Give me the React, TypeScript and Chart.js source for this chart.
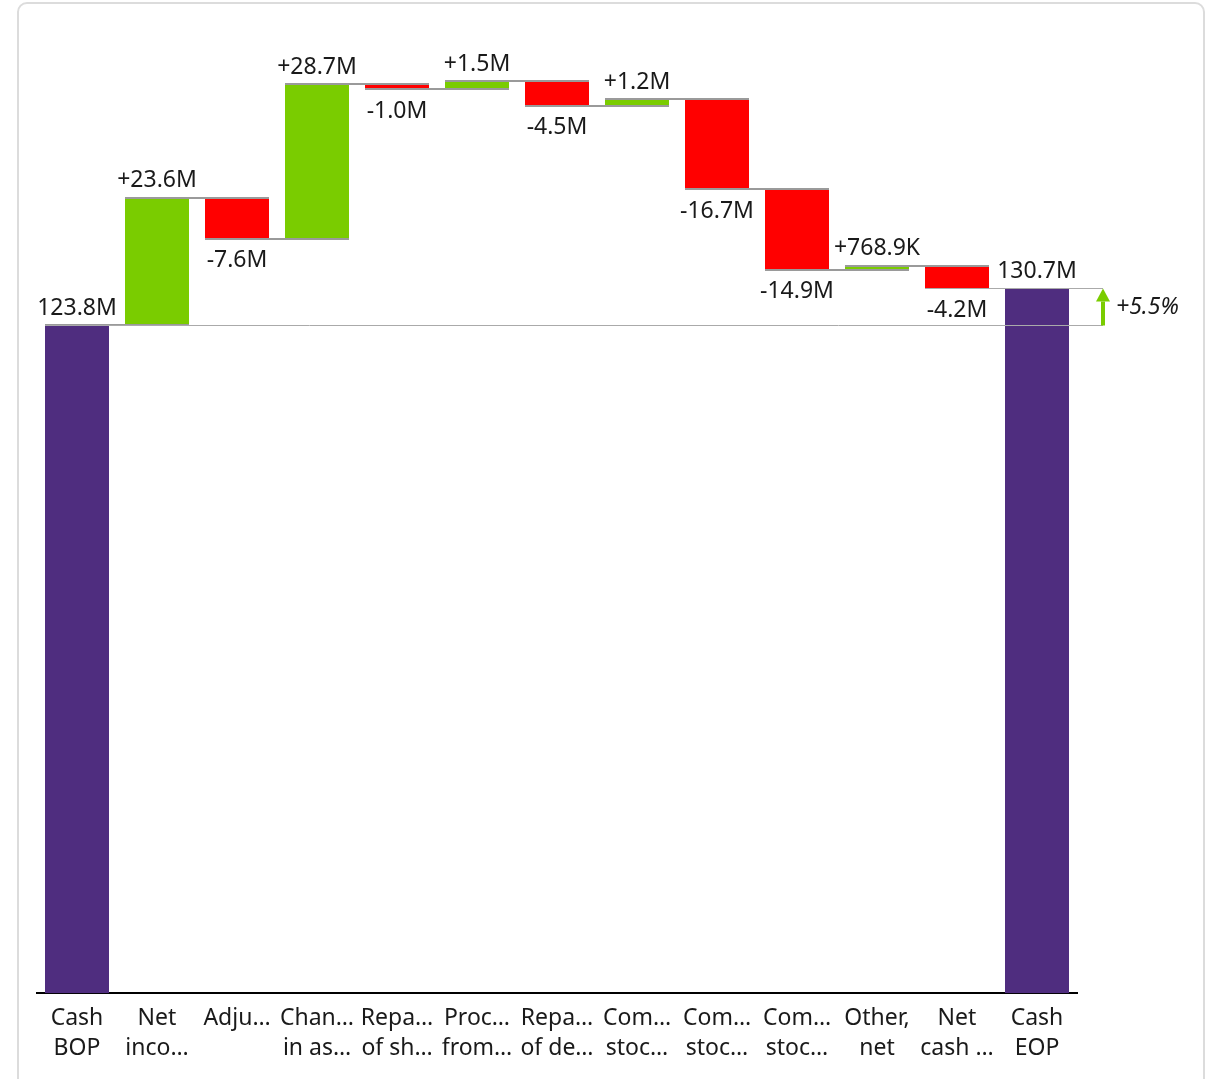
import React, { useEffect, useRef } from "react";
import { Chart, registerables } from "chart.js";

Chart.register(...registerables);

// ---- data (values in millions) ----
const categories: (string | string[])[] = [
  ["Cash", "BOP"],
  ["Net", "inco…"],
  "Adju…",
  ["Chan…", "in as…"],
  ["Repa…", "of sh…"],
  ["Proc…", "from…"],
  ["Repa…", "of de…"],
  ["Com…", "stoc…"],
  ["Com…", "stoc…"],
  ["Com…", "stoc…"],
  ["Other,", "net"],
  ["Net", "cash …"],
  ["Cash", "EOP"],
];
const startTotal = 123.8;
const deltas = [23.6, -7.6, 28.7, -1.0, 1.5, -4.5, 1.2, -16.7, -14.9, 0.7689, -4.2];
const yMax = 180;

const COLOR_TOTAL = "#4F2D7F";
const COLOR_UP = "#7ACC00";
const COLOR_DOWN = "#FF0000";
const FONT = "'Noto Sans', 'Open Sans', sans-serif";
const TEXT = "#1a1a1a";

function fmt(v: number, signed: boolean) {
  const a = Math.abs(v);
  const s = a >= 1 ? a.toFixed(1) + "M" : (a * 1000).toFixed(1) + "K";
  if (!signed) return s;
  return (v >= 0 ? "+" : "-") + s;
}

export default function App() {
  const ref = useRef<HTMLCanvasElement | null>(null);

  useEffect(() => {
    if (!ref.current) return;
    const ranges: [number, number][] = [];
    const colors: string[] = [];
    let cum = startTotal;
    ranges.push([0, startTotal]);
    colors.push(COLOR_TOTAL);
    for (const d of deltas) {
      ranges.push([cum, cum + d]);
      colors.push(d >= 0 ? COLOR_UP : COLOR_DOWN);
      cum += d;
    }
    const endTotal = cum;
    ranges.push([0, endTotal]);
    colors.push(COLOR_TOTAL);
    const n = ranges.length;

    const overlay = {
      id: "waterfallOverlay",
      afterDatasetsDraw(chart: any) {
        const ctx = chart.ctx as CanvasRenderingContext2D;
        const meta = chart.getDatasetMeta(0);
        const y = chart.scales.y;
        const els = meta.data as any[];
        ctx.save();
        // connectors
        ctx.strokeStyle = "#9a9a9a";
        ctx.lineWidth = 2;
        for (let i = 0; i < n - 2; i++) {
          const lvl = ranges[i][1];
          const py = Math.round(y.getPixelForValue(lvl));
          const a = els[i];
          const b = els[i + 1];
          ctx.beginPath();
          ctx.moveTo(a.x - a.width / 2, py);
          ctx.lineTo(b.x + b.width / 2, py);
          ctx.stroke();
        }
        // reference lines to arrow
        const arrowX = els[n - 1].x + els[n - 1].width / 2 + 34;
        const yB = Math.round(y.getPixelForValue(startTotal)) + 0.5;
        const yE = Math.round(y.getPixelForValue(endTotal)) + 0.5;
        ctx.strokeStyle = "#aaaaaa";
        ctx.lineWidth = 1;
        ctx.beginPath();
        ctx.moveTo(els[0].x - els[0].width / 2, yB);
        ctx.lineTo(arrowX, yB);
        ctx.moveTo(els[n - 2].x - els[n - 2].width / 2, yE);
        ctx.lineTo(arrowX, yE);
        ctx.stroke();
        // arrow
        const up = endTotal >= startTotal;
        ctx.strokeStyle = COLOR_UP;
        ctx.fillStyle = COLOR_UP;
        ctx.lineWidth = 4;
        const headH = 13;
        ctx.beginPath();
        ctx.moveTo(arrowX, yB);
        ctx.lineTo(arrowX, up ? yE + headH : yE - headH);
        ctx.stroke();
        ctx.beginPath();
        ctx.moveTo(arrowX, yE);
        ctx.lineTo(arrowX - 7, up ? yE + headH : yE - headH);
        ctx.lineTo(arrowX + 7, up ? yE + headH : yE - headH);
        ctx.closePath();
        ctx.fill();
        const pct = ((endTotal - startTotal) / startTotal) * 100;
        ctx.fillStyle = TEXT;
        ctx.font = "italic 23px " + FONT;
        ctx.textAlign = "left";
        ctx.textBaseline = "middle";
        ctx.fillText((pct >= 0 ? "+" : "") + pct.toFixed(1) + "%", arrowX + 13, (yB + yE) / 2);

        // value labels
        ctx.font = "23px " + FONT;
        ctx.textAlign = "center";
        ctx.fillStyle = TEXT;
        for (let i = 0; i < n; i++) {
          const el = els[i];
          const [s, e] = ranges[i];
          const isTotal = i === 0 || i === n - 1;
          const v = e - s;
          const topPx = y.getPixelForValue(Math.max(s, e));
          const botPx = y.getPixelForValue(Math.min(s, e));
          const text = isTotal ? fmt(e, false) : fmt(v, true);
          if (isTotal || v >= 0) {
            ctx.fillText(text, el.x, topPx - 17);
          } else {
            ctx.fillText(text, el.x, botPx + 22);
          }
        }
        ctx.restore();
      },
    };

    const chart = new Chart(ref.current, {
      type: "bar",
      data: {
        labels: categories,
        datasets: [
          {
            data: ranges as any,
            backgroundColor: colors,
            borderWidth: 0,
            barPercentage: 0.8,
            categoryPercentage: 1,
          },
        ],
      },
      options: {
        animation: false,
        responsive: false,
        devicePixelRatio: 1,
        layout: { padding: { left: 37, right: 133, top: 22, bottom: 6 } },
        plugins: { legend: { display: false }, tooltip: { enabled: false } },
        scales: {
          x: {
            grid: { display: false, drawTicks: false },
            border: { display: true, color: "#000", width: 2 },
            ticks: {
              color: TEXT,
              padding: 10,
              maxRotation: 0,
              autoSkip: false,
              font: { family: FONT, size: 23, lineHeight: 1.3 },
            },
          },
          y: { display: false, min: 0, max: yMax },
        },
      },
      plugins: [overlay],
    });
    return () => chart.destroy();
  }, []);

  return (
    <div style={{ position: "fixed", left: 0, top: 0, width: 1210, height: 1079, overflow: "hidden", background: "#fff" }}>
      <div
        style={{
          position: "absolute",
          left: 17,
          top: 2,
          width: 1188,
          height: 1120,
          border: "2px solid #dcdcdc",
          borderRadius: 10,
          boxSizing: "border-box",
        }}
      />
      <canvas ref={ref} width={1210} height={1079} style={{ position: "absolute", left: 0, top: 0 }} />
    </div>
  );
}
